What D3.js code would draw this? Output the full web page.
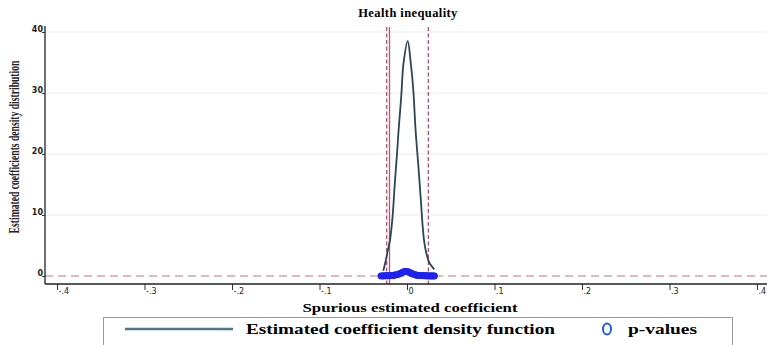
<!DOCTYPE html>
<html><head><meta charset="utf-8">
<script src="https://d3js.org/d3.v7.min.js"></script>
<style>body{margin:0;background:#fff}svg{display:block}</style>
</head><body>
<script>
// ---- data ----
const xTicks = [-0.4,-0.3,-0.2,-0.1,0,0.1,0.2,0.3,0.4];
const xTickLabels = ["-.4","-.3","-.2","-.1","0",".1",".2",".3",".4"];
const yTicks = [0,10,20,30,40];
const yTickLabels = ["0","10","20","30","40"];
// density of spurious estimated coefficients
const densX = [-0.0271,-0.0249,-0.0219,-0.0194,-0.0165,-0.0139,-0.0111,-0.0096,-0.0066,-0.0040,0.0008,0.0043,0.0072,0.0098,0.0129,0.0158,0.0194,0.0226,0.0257,0.0312];
const densY = [0.87,2.13,4.26,5.9,9.72,15.25,20.66,23.93,29.4,34.87,38.52,34.92,30.5,23.93,18.2,12.46,5.9,3.44,2.13,1.1];
// p-values plotted against coefficient
const pvX = [-0.0297,-0.0285,-0.0272,-0.0260,-0.0248,-0.0236,-0.0224,-0.0212,-0.0200,-0.0188,-0.0176,-0.0164,-0.0152,-0.0140,-0.0128,-0.0116,-0.0104,-0.0092,-0.0080,-0.0068,-0.0056,-0.0044,-0.0032,-0.0020,-0.0008,0.0004,0.0016,0.0028,0.0040,0.0052,0.0064,0.0076,0.0088,0.0100,0.0112,0.0124,0.0136,0.0148,0.0160,0.0172,0.0184,0.0196,0.0208,0.0220,0.0232,0.0244,0.0256,0.0268,0.0280,0.0292,0.0304,0.0314];
const pvY = [0.02,0.01,0.03,0.02,0.04,0.03,0.05,0.04,0.06,0.08,0.07,0.10,0.12,0.15,0.18,0.22,0.27,0.33,0.40,0.48,0.56,0.64,0.70,0.74,0.75,0.72,0.66,0.58,0.50,0.42,0.35,0.28,0.22,0.17,0.13,0.10,0.08,0.07,0.05,0.06,0.04,0.05,0.03,0.04,0.02,0.03,0.02,0.01,0.02,0.01,0.02,0.01];
const vLinesDash = [-0.0232, 0.0244];
const vLineSolid = [-0.0200];
const titleText = "Health inequality";
const xTitle = "Spurious estimated coefficient";
const yTitle = "Estimated coefficients density distribution";
const legendLabels = ["Estimated coefficient density function","p-values"];

// ---- drawing ----
(function(){
const W = 767, H = 345;
const svg = d3.select("body").append("svg").attr("width", W).attr("height", H);
const x = d3.scaleLinear().domain([-0.4, 0.4]).range([57, 757]);
const y = d3.scaleLinear().domain([0, 40]).range([276, 32]);
const pLeft = 45, pBottom = 284, pRight = 767, pTop = 26;

// grid
svg.append("g").selectAll("line").data(yTicks.filter(d => d > 0)).join("line")
  .attr("x1", pLeft).attr("x2", pRight).attr("y1", d => y(d)).attr("y2", d => y(d))
  .attr("stroke", "#ececec").attr("stroke-width", 1);

// zero dashed line
svg.append("line").attr("x1", pLeft).attr("x2", pRight).attr("y1", y(0)).attr("y2", y(0))
  .attr("stroke", "#c8707f").attr("stroke-width", 1).attr("stroke-dasharray", "8,5");

// vertical lines
svg.append("g").selectAll("line").data(vLinesDash).join("line")
  .attr("x1", d => x(d)).attr("x2", d => x(d)).attr("y1", pTop + 1).attr("y2", pBottom)
  .attr("stroke", "#b3506d").attr("stroke-width", 1.3).attr("stroke-dasharray", "4,2.5");
svg.append("g").selectAll("line").data(vLineSolid).join("line")
  .attr("x1", d => x(d)).attr("x2", d => x(d)).attr("y1", pTop + 1).attr("y2", pBottom)
  .attr("stroke", "#c45068").attr("stroke-width", 1.3);

// density curve
const dens = densX.map((d, i) => [d, densY[i]]);
svg.append("path").datum(dens)
  .attr("d", d3.line().x(d => x(d[0])).y(d => y(d[1])).curve(d3.curveCatmullRom.alpha(0.5)))
  .attr("fill", "none").attr("stroke", "#2c4457").attr("stroke-width", 1.8);

// p-values
const pv = pvX.map((d, i) => [d, pvY[i]]);
svg.append("g").selectAll("circle").data(pv).join("circle")
  .attr("cx", d => x(d[0])).attr("cy", d => y(d[1])).attr("r", 2.6)
  .attr("fill", "none").attr("stroke", "#1f22f2").attr("stroke-width", 1.6);

// axes
const xAxis = svg.append("g").attr("transform", `translate(0,${pBottom})`)
  .call(d3.axisBottom(x).tickValues(xTicks).tickSize(6).tickFormat((d, i) => xTickLabels[i]));
xAxis.select(".domain").remove();
xAxis.selectAll("line").attr("stroke", "#333");
xAxis.selectAll("text").attr("text-anchor", "start").attr("x", 1).attr("y", 4).attr("dy", "0.71em")
  .attr("font-family", "DejaVu Sans, sans-serif").attr("font-size", 8).attr("fill", "#222");
svg.append("line").attr("x1", pLeft).attr("x2", pRight).attr("y1", pBottom).attr("y2", pBottom)
  .attr("stroke", "#222").attr("stroke-width", 1.3);

const yAxis = svg.append("g").attr("transform", `translate(${pLeft},0)`)
  .call(d3.axisLeft(y).tickValues(yTicks).tickSize(3).tickFormat((d, i) => yTickLabels[i]));
yAxis.select(".domain").remove();
yAxis.selectAll("line").attr("stroke", "#333");
yAxis.selectAll("text").attr("x", -2).attr("dy", "-0.05em")
  .attr("font-family", "DejaVu Sans, sans-serif").attr("font-size", 8).attr("font-weight", "bold").attr("fill", "#222");
svg.append("line").attr("x1", pLeft).attr("x2", pLeft).attr("y1", pTop).attr("y2", pBottom)
  .attr("stroke", "#222").attr("stroke-width", 1.3);

// titles
svg.append("text").attr("x", 408).attr("y", 17).attr("text-anchor", "middle")
  .attr("font-family", "Liberation Serif, serif").attr("font-weight", "bold").attr("font-size", 12.5)
  .attr("letter-spacing", "0.4px").text(titleText);
svg.append("text").attr("x", 410).attr("y", 312).attr("text-anchor", "middle")
  .attr("font-family", "Liberation Serif, serif").attr("font-weight", "bold").attr("font-size", 13)
  .attr("textLength", 215).attr("lengthAdjust", "spacingAndGlyphs").text(xTitle);
const yt = svg.append("text").attr("text-anchor", "middle")
  .attr("font-family", "Liberation Serif, serif").attr("font-weight", "bold").attr("font-size", 14)
  .attr("fill", "#222").text(yTitle);
const natural = yt.node().getComputedTextLength();
yt.attr("transform", `translate(19,147) rotate(-90) scale(${173 / natural},1)`);

// legend
svg.append("rect").attr("x", 103.5).attr("y", 317.5).attr("width", 629).attr("height", 40)
  .attr("fill", "#fff").attr("stroke", "#999").attr("stroke-width", 1);
svg.append("line").attr("x1", 125).attr("x2", 233).attr("y1", 329).attr("y2", 329)
  .attr("stroke", "#4a7888").attr("stroke-width", 2.5);
svg.append("text").attr("x", 246).attr("y", 334)
  .attr("font-family", "Liberation Serif, serif").attr("font-weight", "bold").attr("font-size", 15)
  .attr("textLength", 309).attr("lengthAdjust", "spacingAndGlyphs").text(legendLabels[0]);
svg.append("ellipse").attr("cx", 607).attr("cy", 329).attr("rx", 4).attr("ry", 5.5)
  .attr("fill", "none").attr("stroke", "#1f5fe8").attr("stroke-width", 2);
svg.append("text").attr("x", 628).attr("y", 334)
  .attr("font-family", "Liberation Serif, serif").attr("font-weight", "bold").attr("font-size", 15)
  .attr("textLength", 69).attr("lengthAdjust", "spacingAndGlyphs").text(legendLabels[1]);
})();
</script>
</body></html>
